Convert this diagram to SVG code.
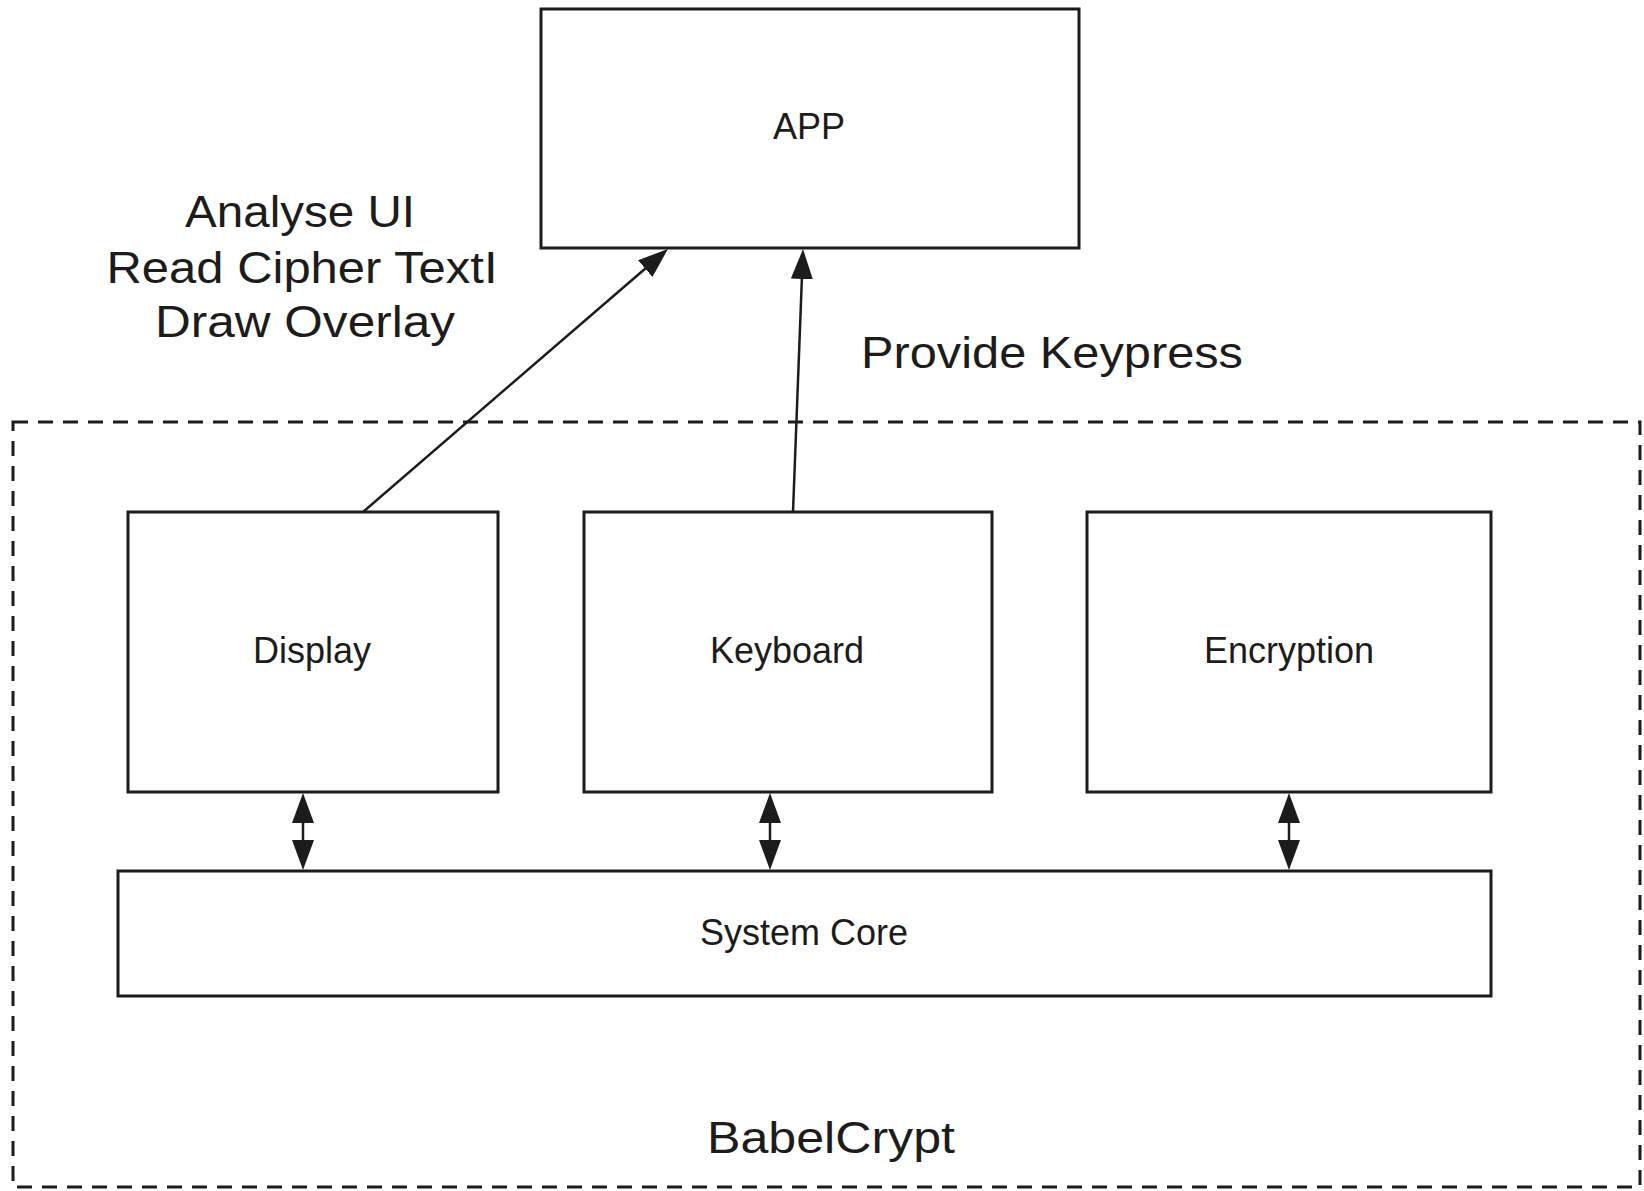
<svg xmlns="http://www.w3.org/2000/svg" width="1644" height="1191" viewBox="0 0 1644 1191">
  <defs>
    <style>
      .box { fill: #ffffff; stroke: #1c1c1c; stroke-width: 3; }
      .frame { fill: none; stroke: #1c1c1c; stroke-width: 3; stroke-dasharray: 15 10; }
      .lbl { font-family: "Liberation Sans", Arial, Helvetica, sans-serif; fill: #1c1c1c; text-anchor: middle; }
      .node { font-size: 36px; }
      .big { font-size: 45px; }
      .edge { fill: none; stroke: #1c1c1c; stroke-width: 2.5; }
    </style>
    <marker id="ah" viewBox="0 0 30 22" refX="22" refY="11" markerWidth="30" markerHeight="22" markerUnits="userSpaceOnUse" orient="auto-start-reverse">
      <path d="M0,0 L30,11 L0,22 z" fill="#1c1c1c"/>
    </marker>
  </defs>
  <rect width="1644" height="1191" fill="#ffffff"/>

  <g id="babelcrypt">
    <rect class="frame" x="13" y="422" width="1627" height="765"/>
    <text class="lbl big" x="831" y="1153" textLength="248" lengthAdjust="spacingAndGlyphs">BabelCrypt</text>
  </g>

  <g id="app">
    <rect class="box" x="541" y="9" width="538" height="239"/>
    <text class="lbl node" x="809" y="139">APP</text>
  </g>

  <g id="display">
    <rect class="box" x="128" y="512" width="370" height="280"/>
    <text class="lbl node" x="312" y="663">Display</text>
  </g>

  <g id="keyboard">
    <rect class="box" x="584" y="512" width="408" height="280"/>
    <text class="lbl node" x="787" y="663">Keyboard</text>
  </g>

  <g id="encryption">
    <rect class="box" x="1087" y="512" width="404" height="280"/>
    <text class="lbl node" x="1289" y="663">Encryption</text>
  </g>

  <g id="system-core">
    <rect class="box" x="118" y="871" width="1373" height="125"/>
    <text class="lbl node" x="804" y="945">System Core</text>
  </g>

  <g id="connectors">
    <line class="edge" x1="363" y1="512" x2="661.9" y2="254.2" marker-end="url(#ah)"/>
    <line class="edge" x1="793" y1="512" x2="802.7" y2="257" marker-end="url(#ah)"/>
    <line class="edge" x1="303" y1="801" x2="303" y2="862" marker-start="url(#ah)" marker-end="url(#ah)"/>
    <line class="edge" x1="770" y1="801" x2="770" y2="862" marker-start="url(#ah)" marker-end="url(#ah)"/>
    <line class="edge" x1="1289" y1="801" x2="1289" y2="862" marker-start="url(#ah)" marker-end="url(#ah)"/>
  </g>

  <g id="edge-labels">
    <text class="lbl big" x="300" y="227" textLength="230" lengthAdjust="spacingAndGlyphs">Analyse UI</text>
    <text class="lbl big" x="302" y="283" textLength="391" lengthAdjust="spacingAndGlyphs">Read Cipher TextI</text>
    <text class="lbl big" x="305" y="337" textLength="300" lengthAdjust="spacingAndGlyphs">Draw Overlay</text>
    <text class="lbl big" x="1052" y="368" textLength="382" lengthAdjust="spacingAndGlyphs">Provide Keypress</text>
  </g>
</svg>
